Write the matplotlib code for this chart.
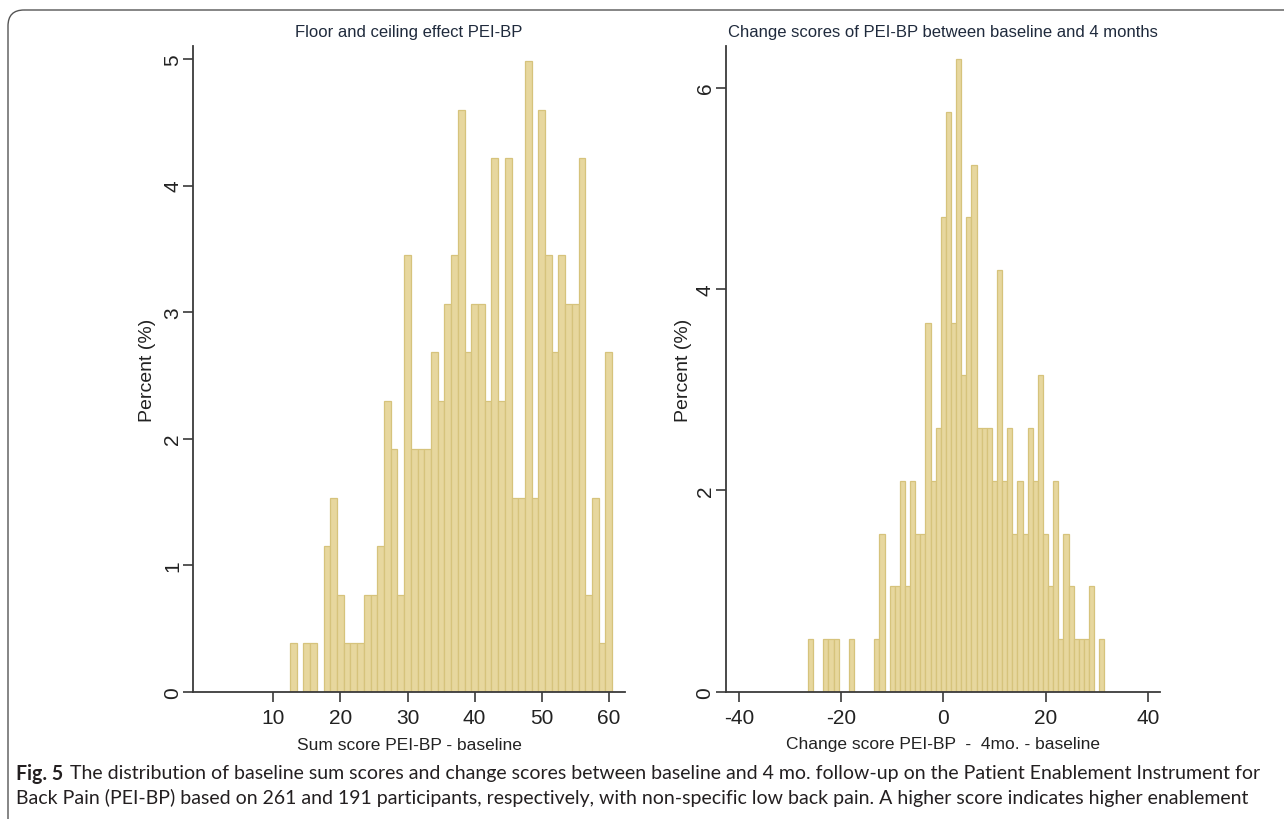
import matplotlib
matplotlib.use('Agg')
import matplotlib.pyplot as plt
from matplotlib.patches import FancyBboxPatch
import numpy as np

# --- data (counts per integer score) ---
base_score = [13, 15, 16, 18, 19, 20, 21, 22, 23, 24, 25, 26, 27, 28, 29, 30,
              31, 32, 33, 34, 35, 36, 37, 38, 39, 40, 41, 42, 43, 44, 45, 46,
              47, 48, 49, 50, 51, 52, 53, 54, 55, 56, 57, 58, 59, 60]
base_count = [1, 1, 1, 3, 4, 2, 1, 1, 1, 2, 2, 3, 6, 5, 2, 9,
              5, 5, 5, 7, 6, 8, 9, 12, 7, 8, 8, 6, 11, 6, 11, 4,
              4, 13, 4, 12, 9, 7, 9, 8, 8, 11, 2, 4, 1, 7]
n_base = 261

change_score = [-26, -23, -22, -21, -18, -13, -12, -10, -9, -8, -7, -6, -5, -4,
                -3, -2, -1, 0, 1, 2, 3, 4, 5, 6, 7, 8, 9, 10, 11, 12, 13, 14,
                15, 16, 17, 18, 19, 20, 21, 22, 23, 24, 25, 26, 27, 28, 29, 31]
change_count = [1, 1, 1, 1, 1, 1, 3, 2, 2, 4, 2, 4, 3, 3,
                7, 4, 5, 9, 11, 7, 12, 6, 9, 10, 5, 5, 5, 4, 8, 4, 5, 3,
                4, 3, 5, 4, 6, 3, 2, 4, 1, 3, 2, 1, 1, 1, 2, 1]
n_change = 191

left_xticks = [10, 20, 30, 40, 50, 60]
left_yticks = [0, 1, 2, 3, 4, 5]
right_xticks = [-40, -20, 0, 20, 40]
right_yticks = [0, 2, 4, 6]

titles = ['Floor and ceiling effect PEI-BP',
          'Change scores of PEI-BP between baseline and 4 months']
xlabels = ['Sum score PEI-BP - baseline',
           'Change score PEI-BP  -  4mo. - baseline']
ylabel = 'Percent (%)'
cap_bold = 'Fig. 5'
cap_line1 = ('The distribution of baseline sum scores and change scores between baseline '
             'and 4 mo. follow-up on the Patient Enablement Instrument for')
cap_line2 = ('Back Pain (PEI-BP) based on 261 and 191 participants, respectively, with '
             'non-specific low back pain. A higher score indicates higher enablement')

plt.rcParams['axes.unicode_minus'] = False
font = 'Liberation Sans'
cap_font = 'Lato'

FILL = '#e7d79e'
EDGE = '#d6c37c'
AX = '#3a3a3a'
W, H = 1284, 820

fig = plt.figure(figsize=(W / 100, H / 100), dpi=100)
fig.patch.set_facecolor('white')

# frame round the figure panel
bg = fig.add_axes([0, 0, 1, 1], zorder=-5)
bg.set_xlim(0, W)
bg.set_ylim(H, 0)
bg.axis('off')
bg.add_patch(FancyBboxPatch((8, 11), 1400, 900, boxstyle='round,pad=0,rounding_size=16',
                            fill=False, edgecolor='#555555', linewidth=1.0))


def px_axes(x0, x1, y0, y1):
    return fig.add_axes([x0 / W, 1 - y1 / H, (x1 - x0) / W, (y1 - y0) / H])


axL = px_axes(193.3, 625, 47.3, 692.7)
axR = px_axes(725.7, 1160, 47.3, 692.7)

panels = [
    (axL, base_score, base_count, n_base, (-1.92, 62.41), (0, 5.10), left_xticks, left_yticks),
    (axR, change_score, change_count, n_change, (-42.6, 42.4), (0, 6.41), right_xticks, right_yticks),
]

for i, (ax, xs, cnt, n, xl, yl, xt, yt) in enumerate(panels):
    pct = np.array(cnt) / n * 100
    ax.bar(xs, pct, width=1.0, color=FILL, edgecolor=EDGE, linewidth=0.9)
    ax.set_xlim(*xl)
    ax.set_ylim(*yl)
    ax.set_xticks(xt)
    ax.set_yticks(yt)
    for s in ['top', 'right']:
        ax.spines[s].set_visible(False)
    for s in ['left', 'bottom']:
        ax.spines[s].set_color(AX)
        ax.spines[s].set_linewidth(1.3)
    ax.tick_params(direction='out', length=7, width=1.2, color=AX, labelcolor='#222222',
                   labelsize=15)
    ax.tick_params(axis='x', pad=5)
    ax.tick_params(axis='y', pad=1)
    for lab in ax.get_xticklabels():
        lab.set_fontfamily(font)
    for lab in ax.get_yticklabels():
        lab.set_fontfamily(font)
        lab.set_rotation(90)
        lab.set_va('center')
    ax.text(0.5, 1 + (47.3 - 33) / 645.4, titles[i], transform=ax.transAxes,
            ha='center', va='center', fontsize=12, family=font, color='#1f2a3c')
    ax.text(0.5, -(745 - 692.7) / 645.4, xlabels[i], transform=ax.transAxes,
            ha='center', va='center', fontsize=12.5, family=font, color='#222222')

fig.text(148 / W, 1 - 370 / H, ylabel, rotation=90, ha='center', va='center',
         fontsize=14, family=font, color='#222222')
fig.text(683 / W, 1 - 370 / H, ylabel, rotation=90, ha='center', va='center',
         fontsize=14, family=font, color='#222222')

# caption, sized so that the first line spans the panel width
r = fig.canvas.get_renderer()
cap_size = 15.0
tb = fig.text(16 / W, 1 - 774 / H, cap_bold, ha='left', va='center', fontsize=cap_size,
              family=cap_font, weight='bold', color='#231f20')
t1 = fig.text(0, 1 - 774 / H, cap_line1, ha='left', va='center',
              fontsize=cap_size, family=cap_font, color='#231f20')
total = tb.get_window_extent(r).width + 8 + t1.get_window_extent(r).width
cap_size = cap_size * 1250 / total
tb.set_fontsize(cap_size)
t1.set_fontsize(cap_size)
bw = tb.get_window_extent(r).width
t1.set_x((16 + bw + 7) / W)
fig.text(16 / W, 1 - 798 / H, cap_line2, ha='left', va='center',
         fontsize=cap_size, family=cap_font, color='#231f20')

fig.savefig('out.png', dpi=100, facecolor='white')
